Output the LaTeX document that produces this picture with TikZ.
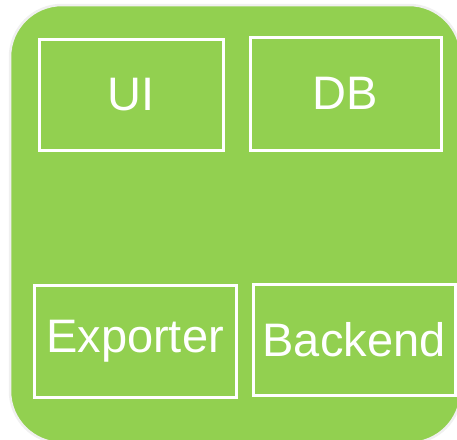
\documentclass[tikz,border=0pt]{standalone}
\usepackage{fontspec}
\setmainfont{Liberation Sans}
\definecolor{panelgreen}{RGB}{146,208,80}
\begin{document}
\begin{tikzpicture}[x=1pt, y=-1pt,
    module/.style={draw=white, line width=3pt, text=white, inner sep=0pt,
        font=\fontsize{47}{56}\selectfont}]
    % Frame of the picture
    \useasboundingbox (0,0) rectangle (457,439);
    \clip (0,0) rectangle (457,439);

    % Green panel
    \draw[fill=panelgreen, draw=gray!12, line width=2.5pt, rounded corners=52pt]
        (10,5) rectangle (461,443);

    % Modules
    \node[module, minimum width=184pt, minimum height=111pt] (ui) at (131,94.5) {UI};
    \node[module, minimum width=191pt, minimum height=113pt] (db) at (345.5,93.5) {DB};
    \node[module, minimum width=202pt, minimum height=112pt] (exporter) at (135,341) {Exporter};
    \node[module, minimum width=202pt, minimum height=111pt] (backend) at (354,339.5) {Backend};

\end{tikzpicture}
\end{document}
